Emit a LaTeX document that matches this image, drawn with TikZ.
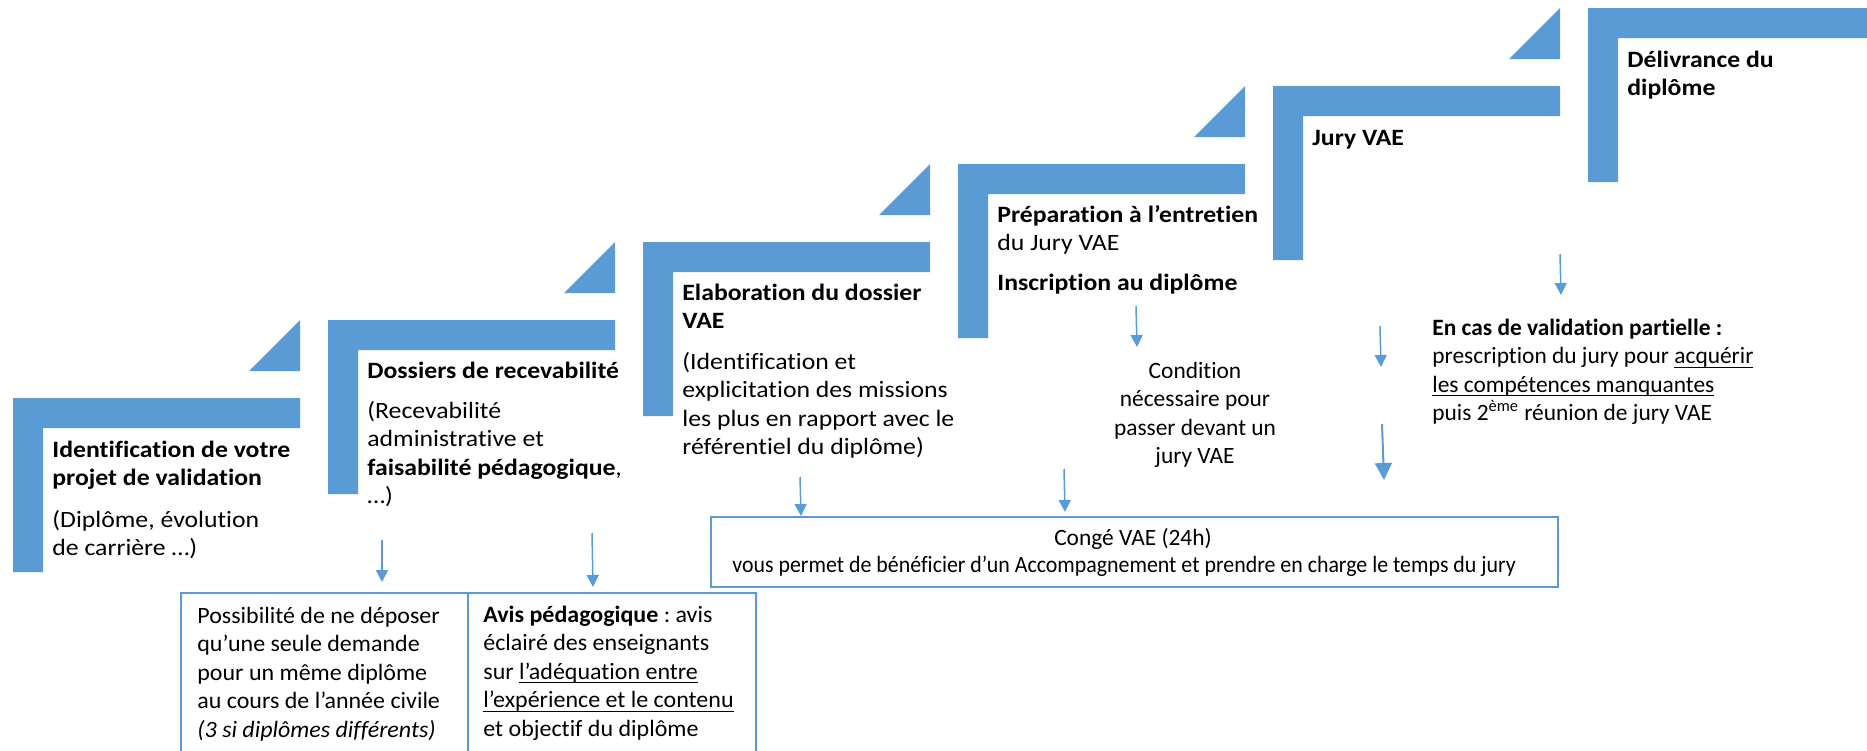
\documentclass[tikz,border=0pt]{standalone}
\usepackage{fontspec}
\setmainfont{Carlito}[Ligatures=CommonOff]
\newfontfamily\widefont{Carlito}[Ligatures=CommonOff, FakeStretch=1.10]
\newfontfamily\boxfont{Carlito}[Ligatures=CommonOff, FakeStretch=1.025]
\newfontfamily\narrowfont{Carlito}[Ligatures=CommonOff, FakeStretch=0.935]
\usetikzlibrary{arrows.meta}
\definecolor{vblue}{HTML}{5B9BD5}
\frenchspacing
\newcommand{\ml}[1]{\begin{tabular}[t]{@{}l@{}}#1\end{tabular}}
\newcommand{\mcen}[1]{\begin{tabular}[t]{@{}c@{}}#1\end{tabular}}
\newsavebox{\myulbox}
\newcommand{\myul}[1]{\sbox{\myulbox}{#1}\rlap{\rule[-2.2pt]{\wd\myulbox}{0.6pt}}\usebox{\myulbox}}
\newcommand{\stepL}[3]{% left, top, right
  \fill[vblue] (#1,#2) -- (#3,#2) -- (#3,#2+30) -- (#1+30,#2+30) -- (#1+30,#2+174) -- (#1,#2+174) -- cycle;}
\newcommand{\stepT}[2]{% right, top of its step
  \fill[vblue] (#1,#2-78) -- (#1,#2-27) -- (#1-51,#2-27) -- cycle;}
\tikzset{
  txt/.style={inner sep=0pt, anchor=base west, text=black, font=\fontsize{11.7}{14.25}\selectfont},
  ctxt/.style={inner sep=0pt, anchor=base, text=black, font=\fontsize{11.7}{14.25}\selectfont},
  steptxt/.style={inner sep=0pt, anchor=base west, text=black, font=\widefont\fontsize{11.7}{14.25}\selectfont},
  boxtxt/.style={inner sep=0pt, anchor=base west, text=black, font=\boxfont\fontsize{11.7}{14.25}\selectfont},
  arr/.style={draw=vblue, line width=0.75pt, -{Triangle[length=6pt,width=6pt]}},
  bigarr/.style={draw=vblue, line width=1pt, -{Triangle[length=8.5pt,width=8.5pt]}},
  infobox/.style={draw=vblue, line width=1pt, inner sep=0pt, anchor=north west}
}
\begin{document}
\begin{tikzpicture}[x=0.5pt, y=-0.5pt]
\useasboundingbox (0,0) rectangle (1867,750);
\clip (0,0) rectangle (1867,750);

% stair steps
\stepL{13}{398}{300}
\stepT{300}{398}
\stepL{328}{320}{615}
\stepT{615}{320}
\stepL{643}{242}{930}
\stepT{930}{242}
\stepL{958}{164}{1245}
\stepT{1245}{164}
\stepL{1273}{86}{1560}
\stepT{1560}{86}
\stepL{1588}{8}{1870}

% step texts
\node[steptxt] (s1a) at (52,457) {\bfseries\ml{Identification de votre\\projet de validation}};
\node[steptxt] (s1b) at (52,527) {\ml{(Diplôme, évolution\\de carrière …)}};
\node[steptxt] (s2a) at (367,378) {\bfseries Dossiers de recevabilité};
\node[steptxt] (s2b) at (367,418) {\ml{(Recevabilité\\administrative et\\\textbf{faisabilité pédagogique},\\…)}};
\node[steptxt] (s3a) at (682,300) {\bfseries\ml{Elaboration du dossier\\VAE}};
\node[steptxt] (s3b) at (682,369) {\ml{(Identification et\\explicitation des missions\\les plus en rapport avec le\\référentiel du diplôme)}};
\node[steptxt] (s4a) at (997,222) {\ml{\textbf{Préparation à l’entretien}\\du Jury VAE}};
\node[steptxt] (s4b) at (997,290) {\bfseries Inscription au diplôme};
\node[steptxt] (s5a) at (1312,145) {\bfseries Jury VAE};
\node[steptxt] (s6a) at (1627,67) {\bfseries\ml{Délivrance du\\diplôme}};

% side notes
\node[ctxt] (cond) at (1195,378) {\mcen{Condition\\nécessaire pour\\passer devant un\\jury VAE}};
\node[txt] (partial) at (1432,335) {\ml{\textbf{En cas de validation partielle :}\\prescription du jury pour \myul{acquérir}\\\myul{les compétences manquantes}\\puis 2\textsuperscript{ème} réunion de jury VAE}};

% bottom boxes
\node[infobox, minimum width=143.5pt, minimum height=85pt] (box1) at (180,592) {};
\node[infobox, minimum width=144pt, minimum height=85pt] (box2) at (467,592) {};
\node[boxtxt] (b1t) at (197,623) {\ml{Possibilité de ne déposer\\qu’une seule demande\\pour un même diplôme\\au cours de l’année civile\\\textit{(3 si diplômes différents)}}};
\node[boxtxt] (b2t) at (483,622) {\ml{\textbf{Avis pédagogique} : avis\\éclairé des enseignants\\sur \myul{l’adéquation entre}\\\myul{l’expérience et le contenu}\\et objectif du diplôme}};

% conge box
\node[infobox, minimum width=423.5pt, minimum height=35pt] (conge) at (710,516) {};
\node[ctxt] (conge1) at (1133,545) {Congé VAE (24h)};
\node[txt, font=\narrowfont\fontsize{11.7}{14.25}\selectfont] (conge2) at (732,572) {vous permet de bénéficier d’un Accompagnement et prendre en charge le temps du jury};

% arrows
\coordinate (a1s) at (382,540); \coordinate (a1e) at (382,582);
\coordinate (a2s) at (592,533); \coordinate (a2e) at (593,587);
\coordinate (a3s) at (800,477); \coordinate (a3e) at (801,516);
\coordinate (a4s) at (1064,469); \coordinate (a4e) at (1065,512);
\coordinate (a5s) at (1136,306); \coordinate (a5e) at (1137,347);
\coordinate (a6s) at (1380,326); \coordinate (a6e) at (1381,367);
\coordinate (a7s) at (1382,424); \coordinate (a7e) at (1384,480);
\coordinate (a8s) at (1560,254); \coordinate (a8e) at (1561,295);
\draw[arr] (a1s) -- (a1e);
\draw[arr] (a2s) -- (a2e);
\draw[arr] (a3s) -- (a3e);
\draw[arr] (a4s) -- (a4e);
\draw[arr] (a5s) -- (a5e);
\draw[arr] (a6s) -- (a6e);
\draw[bigarr] (a7s) -- (a7e);
\draw[arr] (a8s) -- (a8e);
\end{tikzpicture}
\end{document}
